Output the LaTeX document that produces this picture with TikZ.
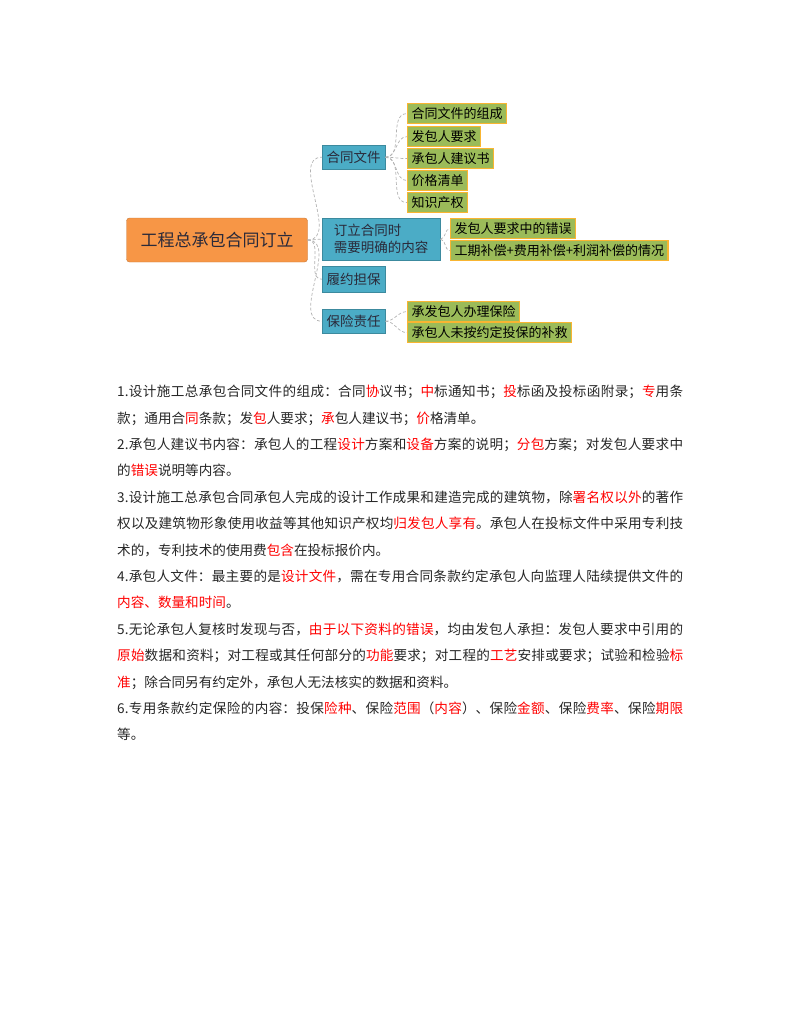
\documentclass[tikz,border=0pt]{standalone}
\usepackage{fontspec}
\setmainfont{Noto Sans CJK SC}
\usetikzlibrary{positioning}
\XeTeXlinebreaklocale "zh"
\XeTeXlinebreakskip=0pt plus 1pt
\definecolor{morange}{HTML}{F79646}
\definecolor{mblue}{HTML}{4BACC6}
\definecolor{mgreen}{HTML}{9BBB59}
\definecolor{mtext}{HTML}{2A2A3A}
\tikzstyle{root}=[draw=morange!80!black, fill=morange, rounded corners=3pt, minimum width=181pt, minimum height=44pt, font=\fontsize{17}{20}\selectfont, text=mtext]
\tikzstyle{topic}=[fill=mblue, draw=mblue!80!black, anchor=north west, minimum height=24pt, inner sep=3pt, font=\fontsize{13.5}{15}\selectfont, text=mtext, align=left]
\tikzstyle{leaf}=[fill=mgreen, draw=morange!70!yellow, line width=1.2, anchor=north west, minimum height=20pt, inner xsep=4pt, inner ysep=2pt, font=\fontsize{13}{14}\selectfont, text=black]
\tikzstyle{conn}=[densely dashed, gray!60, line width=0.7]
\newcommand{\hl}[1]{\textcolor{red}{#1}}

\begin{document}
\begin{tikzpicture}[x=1pt, y=-1pt]
    \useasboundingbox (0,0) rectangle (800,1035);
    \node[root] at (217,240) (r) {工程总承包合同订立};

    \node[topic, minimum width=63pt] at (322,145) (t1) {合同文件};
    \node[topic, minimum width=118pt, minimum height=42pt, font=\fontsize{13.5}{17}\selectfont] at (322,218) (t2) {订立合同时\\需要明确的内容};
    \node[topic, minimum width=63pt, minimum height=26pt] at (322,266) (t3) {履约担保};
    \node[topic, minimum width=63pt] at (322,309) (t4) {保险责任};

    \node[leaf] at (407,103) (l1) {合同文件的组成};
    \node[leaf] at (407,126) (l2) {发包人要求};
    \node[leaf] at (407,148) (l3) {承包人建议书};
    \node[leaf] at (407,170) (l4) {价格清单};
    \node[leaf] at (407,192) (l5) {知识产权};
    \node[leaf] at (450,218) (l6) {发包人要求中的错误};
    \node[leaf] at (450,240) (l7) {工期补偿+费用补偿+利润补偿的情况};
    \node[leaf] at (407,301) (l8) {承发包人办理保险};
    \node[leaf] at (407,322) (l9) {承包人未按约定投保的补救};

    \foreach \t in {t1,t2,t3,t4}
        \draw[conn] (r.east) to[out=0, in=180] (\t.west);
    \foreach \l in {l1,l2,l3,l4,l5}
        \draw[conn] (t1.east) to[out=0, in=180] (\l.west);
    \foreach \l in {l6,l7}
        \draw[conn] (t2.east) to[out=0, in=180] (\l.west);
    \foreach \l in {l8,l9}
        \draw[conn] (t4.east) to[out=0, in=180] (\l.west);

    \node[anchor=north west, inner sep=0pt, text width=566pt, align=justify, font=\fontsize{13.6}{26.4}\selectfont, text=black!85] at (117,385) (body) {%
    1.设计施工总承包合同文件的组成：合同\hl{协}议书；\hl{中}标通知书；\hl{投}标函及投标函附录；\hl{专}用条\linebreak 款；通用合\hl{同}条款；发\hl{包}人要求；\hl{承}包人建议书；\hl{价}格清单。\par
    2.承包人建议书内容：承包人的工程\hl{设计}方案和\hl{设备}方案的说明；\hl{分包}方案；对发包人要求中\linebreak 的\hl{错误}说明等内容。\par
    3.设计施工总承包合同承包人完成的设计工作成果和建造完成的建筑物，除\hl{署名权以外}的著作\linebreak 权以及建筑物形象使用收益等其他知识产权均\hl{归发包人享有}。承包人在投标文件中采用专利技\linebreak 术的，专利技术的使用费\hl{包含}在投标报价内。\par
    4.承包人文件：最主要的是\hl{设计文件}，需在专用合同条款约定承包人向监理人陆续提供文件的\linebreak \hl{内容、数量和时间}。\par
    5.无论承包人复核时发现与否，\hl{由于以下资料的错误}，均由发包人承担：发包人要求中引用的\linebreak \hl{原始}数据和资料；对工程或其任何部分的\hl{功能}要求；对工程的\hl{工艺}安排或要求；试验和检验\hl{标}\linebreak \hl{准}；除合同另有约定外，承包人无法核实的数据和资料。\par
    6.专用条款约定保险的内容：投保\hl{险种}、保险\hl{范围}（\hl{内容}）、保险\hl{金额}、保险\hl{费率}、保险\hl{期限}\linebreak 等。};
\end{tikzpicture}
\end{document}
